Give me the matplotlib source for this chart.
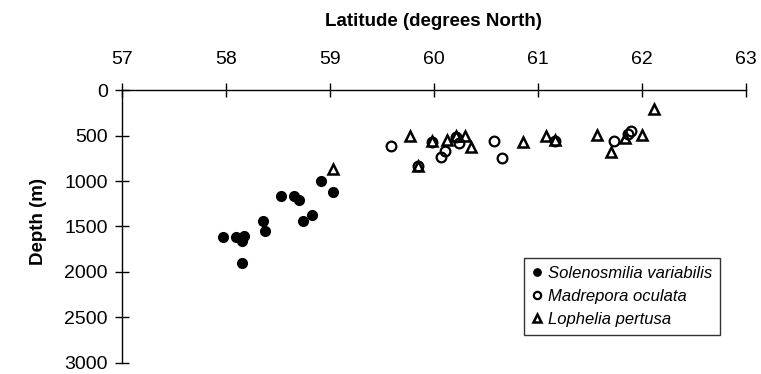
import matplotlib
matplotlib.use("Agg")
import matplotlib.pyplot as plt

plt.rcParams['font.family'] = ['Liberation Sans', 'DejaVu Sans']

sol_lat = [57.97, 58.10, 58.18, 58.16, 58.16, 58.36, 58.38, 58.53, 58.66, 58.70, 58.74, 58.83, 58.92, 59.03]
sol_depth = [1620, 1620, 1610, 1660, 1900, 1445, 1555, 1170, 1170, 1210, 1445, 1370, 1000, 1120]

mad_lat = [59.59, 59.85, 59.98, 60.07, 60.11, 60.21, 60.24, 60.58, 60.66, 61.17, 61.73, 61.87, 61.90]
mad_depth = [610, 830, 570, 740, 670, 520, 585, 555, 750, 555, 565, 480, 455]

lop_lat = [59.03, 59.77, 59.85, 59.98, 60.13, 60.21, 60.30, 60.36, 60.86, 61.08, 61.17, 61.57, 61.70, 61.84, 62.00, 62.12]
lop_depth = [870, 500, 830, 560, 545, 510, 510, 630, 575, 500, 550, 490, 685, 530, 490, 207]

x_ticks = [57, 58, 59, 60, 61, 62, 63]
y_ticks = [0, 500, 1000, 1500, 2000, 2500, 3000]

fig = plt.figure(figsize=(7.61, 3.74), dpi=100)
ax = fig.add_axes([0.160, 0.030, 0.820, 0.729])

ax.plot(sol_lat, sol_depth, 'o', color='black', markersize=7, label='Solenosmilia variabilis')
ax.plot(mad_lat, mad_depth, 'o', markerfacecolor='none', markeredgecolor='black',
        markeredgewidth=1.6, markersize=7, label='Madrepora oculata')
ax.plot(lop_lat, lop_depth, '^', markerfacecolor='none', markeredgecolor='black',
        markeredgewidth=1.8, markersize=7, label='Lophelia pertusa')

ax.set_xlim(57, 63)
ax.set_ylim(3000, 0)
ax.set_xticks(x_ticks)
ax.set_yticks(y_ticks)

ax.spines['right'].set_visible(False)
ax.spines['bottom'].set_visible(False)
ax.spines['top'].set_linewidth(1.0)
ax.spines['left'].set_linewidth(1.0)

ax.xaxis.set_ticks_position('top')
ax.xaxis.set_label_position('top')
ax.tick_params(axis='x', direction='inout', length=10, width=1, labelsize=14, pad=11)
ax.tick_params(axis='y', direction='inout', length=10, width=1, labelsize=14, pad=5)

ax.set_xlabel('Latitude (degrees North)', fontsize=13.5, fontweight='bold', labelpad=18)
ax.set_ylabel('Depth (m)', fontsize=13.5, fontweight='bold')
ax.yaxis.set_label_coords(-0.12, 0.52)

leg = ax.legend(loc='upper left', bbox_to_anchor=(524 / 761, 1 - 258 / 374),
                bbox_transform=fig.transFigure, borderaxespad=0,
                frameon=True, fancybox=False,
                edgecolor='black', prop={'style': 'italic', 'size': 12},
                handlelength=0.6, handletextpad=0.4, borderpad=0.45, labelspacing=0.5,
                markerscale=0.75)
leg.get_frame().set_linewidth(1.0)

fig.savefig('out.png', dpi=100)
